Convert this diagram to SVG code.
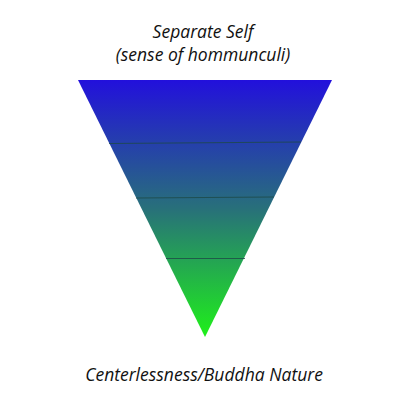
<svg xmlns="http://www.w3.org/2000/svg" width="400" height="400" viewBox="0 0 400 400">
<style>
.t{font-family:"Open Sans","DejaVu Sans",sans-serif;font-style:italic;font-size:17.5px;fill:#111;text-anchor:middle}
.sep{stroke:#1e4a48;stroke-width:1;opacity:0.8}
</style>
<defs>
<linearGradient id="g" x1="0" y1="80" x2="0" y2="337" gradientUnits="userSpaceOnUse">
<stop offset="0" stop-color="#2210dc"/>
<stop offset="0.5" stop-color="#28707a"/>
<stop offset="1" stop-color="#1ff01a"/>
</linearGradient>
</defs>
<rect width="400" height="400" fill="#fff"/>
<g id="triangle">
<polygon points="78,80 332,80 205,337" fill="url(#g)"/>
</g>
<g id="connectors">
<line class="sep" x1="109" y1="143.5" x2="301" y2="142"/>
<line class="sep" x1="136" y1="198" x2="274" y2="197"/>
<line class="sep" x1="166" y1="258.5" x2="245" y2="258.5"/>
</g>
<g id="top-label">
<text class="t" x="203" y="38">Separate Self</text>
<text class="t" x="203" y="61">(sense of hommunculi)</text>
</g>
<g id="bottom-label">
<text class="t" x="204" y="381">Centerlessness/Buddha Nature</text>
</g>
</svg>
